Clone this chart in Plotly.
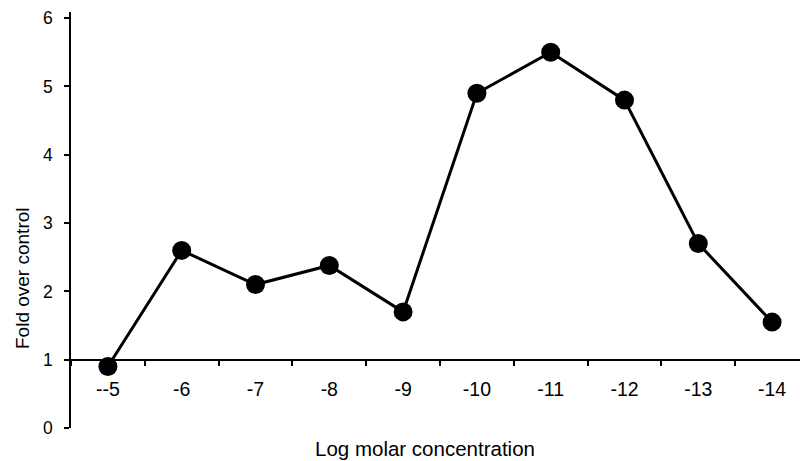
import plotly.graph_objects as go

categories = ["--5", "-6", "-7", "-8", "-9", "-10", "-11", "-12", "-13", "-14"]
fold_values = [0.9, 2.6, 2.1, 2.38, 1.7, 4.9, 5.5, 4.8, 2.7, 1.55]
y_ticks = [0, 1, 2, 3, 4, 5, 6]

Y_MAX = 6.09
FONT = "Arial, Liberation Sans, Helvetica, sans-serif"

fig = go.Figure()
fig.add_trace(go.Scatter(
    x=categories, y=fold_values, mode="lines+markers",
    line=dict(color="black", width=3),
    marker=dict(color="black", size=19),
    showlegend=False, cliponaxis=False,
))

fig.update_layout(
    width=800, height=461,
    margin=dict(l=71, r=0, t=12, b=33, autoexpand=False),
    paper_bgcolor="white", plot_bgcolor="white",
    font=dict(family=FONT, color="black"),
    xaxis=dict(
        type="category", categoryorder="array", categoryarray=categories,
        range=[-0.5, 9.378], tickson="boundaries",
        anchor="free", position=1 / Y_MAX,
        showline=True, linecolor="black", linewidth=1.5,
        ticks="outside", ticklen=6, tickcolor="black", tickwidth=1.5,
        tickfont=dict(size=19.5, family=FONT, color="black"),
        ticklabelstandoff=12, automargin=False,
        showgrid=False, zeroline=False, fixedrange=True,
    ),
    yaxis=dict(
        range=[0, Y_MAX], tickvals=y_ticks,
        showline=True, linecolor="black", linewidth=1.5,
        ticks="outside", ticklen=5, tickcolor="black", tickwidth=1.5,
        tickfont=dict(size=17.5, family=FONT, color="black"),
        ticklabelstandoff=8, automargin=False,
        showgrid=False, zeroline=False, fixedrange=True,
    ),
    annotations=[
        dict(text="Fold over control", textangle=-90, xref="paper", yref="paper",
             x=(22 - 71) / 729, y=(428 - 278) / 416, showarrow=False,
             xanchor="center", yanchor="middle",
             font=dict(size=19, family=FONT, color="black")),
        dict(text="Log molar concentration", xref="paper", yref="paper",
             x=(425 - 71) / 729, y=(428 - 448) / 416, showarrow=False,
             xanchor="center", yanchor="middle",
             font=dict(size=20.5, family=FONT, color="black")),
    ],
)

fig.write_html(
    "out.html",
    config={"displayModeBar": False},
    post_script="document.body.style.margin='0';document.body.style.overflow='hidden';",
)
